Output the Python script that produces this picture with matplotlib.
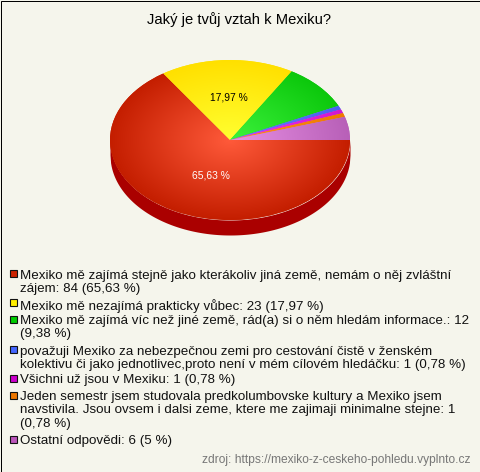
import numpy as np
import matplotlib
matplotlib.use("Agg")
import matplotlib.pyplot as plt
from matplotlib.patches import Rectangle
from matplotlib.colors import LinearSegmentedColormap

title = "Jaký je tvůj vztah k Mexiku?"
counts = [84, 23, 12, 1, 1, 1, 6]
percent_labels = ["65,63 %", "17,97 %"]
legend_texts = [
    "Mexiko mě zajímá stejně jako kterákoliv jiná země, nemám o něj zvláštní\nzájem: 84 (65,63 %)",
    "Mexiko mě nezajímá prakticky vůbec: 23 (17,97 %)",
    "Mexiko mě zajímá víc než jiné země, rád(a) si o něm hledám informace.: 12\n(9,38 %)",
    "považuji Mexiko za nebezpečnou zemi pro cestování čistě v ženském\nkolektivu či jako jednotlivec,proto není v mém cílovém hledáčku: 1 (0,78 %)",
    "Všichni už jsou v Mexiku: 1 (0,78 %)",
    "Jeden semestr jsem studovala predkolumbovske kultury a Mexiko jsem\nnavstivila. Jsou ovsem i dalsi zeme, ktere me zajimaji minimalne stejne: 1\n(0,78 %)",
    "Ostatní odpovědi: 6 (5 %)",
]
source = "zdroj: https://mexiko-z-ceskeho-pohledu.vyplnto.cz"

# (centre, edge) of the radial gradient in each slice
slice_colors = [("#ff5a3a", "#c41e00"), ("#ffff30", "#ffe000"), ("#3cf23c", "#0cc80c"),
                ("#6a7cff", "#4a60f0"), ("#f030f0", "#d018d0"), ("#ff9020", "#ee7a00"),
                ("#e890e4", "#b860b8")]
legend_colors = ["#cc2200", "#ffee00", "#00cc00", "#4466ff", "#cc00cc", "#ee7700", "#bb55bb"]

BG = "#f5f5ec"
W, H = 480, 472
plt.rcParams['font.family'] = ['Liberation Sans', 'DejaVu Sans']

fig = plt.figure(figsize=(W / 100, H / 100), dpi=100, facecolor=BG)
page = fig.add_axes([0, 0, 1, 1])
page.set_xlim(0, W)
page.set_ylim(H, 0)
page.axis("off")
page.add_patch(Rectangle((0.5, 0.5), W - 1, H - 1, fc="none", ec="black", lw=0.72))

page.text(239, 20, title, ha="center", va="center", fontsize=10.6, color="black")

# pie: centre 230,140, radii 120x80 px, side 15 px
cx, cy, rx, ry, depth = 230, 140, 120, 80, 15
pie_ax = fig.add_axes([(cx - rx) / W, 1 - (cy + ry) / H, 2 * rx / W, 2 * ry / H])

d = depth / ry
x = np.linspace(-1, 1, 400)
lower = np.sqrt(1 - x ** 2)
pie_ax.fill_between(x, -lower, -lower - d, color="#aa0000", lw=0, clip_on=False)

wedges, _ = pie_ax.pie(counts, startangle=0, counterclock=False, radius=1,
                       frame=True, colors=[c[1] for c in slice_colors])

gx, gy = np.meshgrid(np.linspace(-1, 1, 300), np.linspace(-1, 1, 300))
rad = np.clip(np.hypot(gx, gy), 0, 1)
for wedge, (inner, outer) in zip(wedges, slice_colors):
    cmap = LinearSegmentedColormap.from_list("s", [inner, outer])
    im = pie_ax.imshow(rad, extent=(-1, 1, -1, 1), origin="lower", cmap=cmap, vmin=0, vmax=1,
                       aspect="auto", zorder=2)
    im.set_clip_path(wedge)
pie_ax.set_xlim(-1, 1)
pie_ax.set_ylim(-1, 1)
pie_ax.set_aspect("auto")
pie_ax.axis("off")

page.text(211, 175, percent_labels[0], ha="center", va="center", fontsize=7.4, color="white", zorder=5)
page.text(229, 98, percent_labels[1], ha="center", va="center", fontsize=7.4, color="black", zorder=5)
page.set_zorder(3)

# legend: centre of the first line of each entry, px
legend_y = [275, 304.3, 320.7, 351, 380, 396.7, 440.7]
for text, y, color in zip(legend_texts, legend_y, legend_colors):
    page.add_patch(Rectangle((10, y - 5), 7, 7, fc=color, ec="#111111", lw=0.8))
    page.text(20.5, y - 5.5, text, ha="left", va="top", fontsize=9.6, color="#111111", linespacing=1.14)

page.text(470, 460, source, ha="right", va="center", fontsize=8.67, color="#777777")

fig.savefig("out.png", dpi=100, facecolor=BG)
